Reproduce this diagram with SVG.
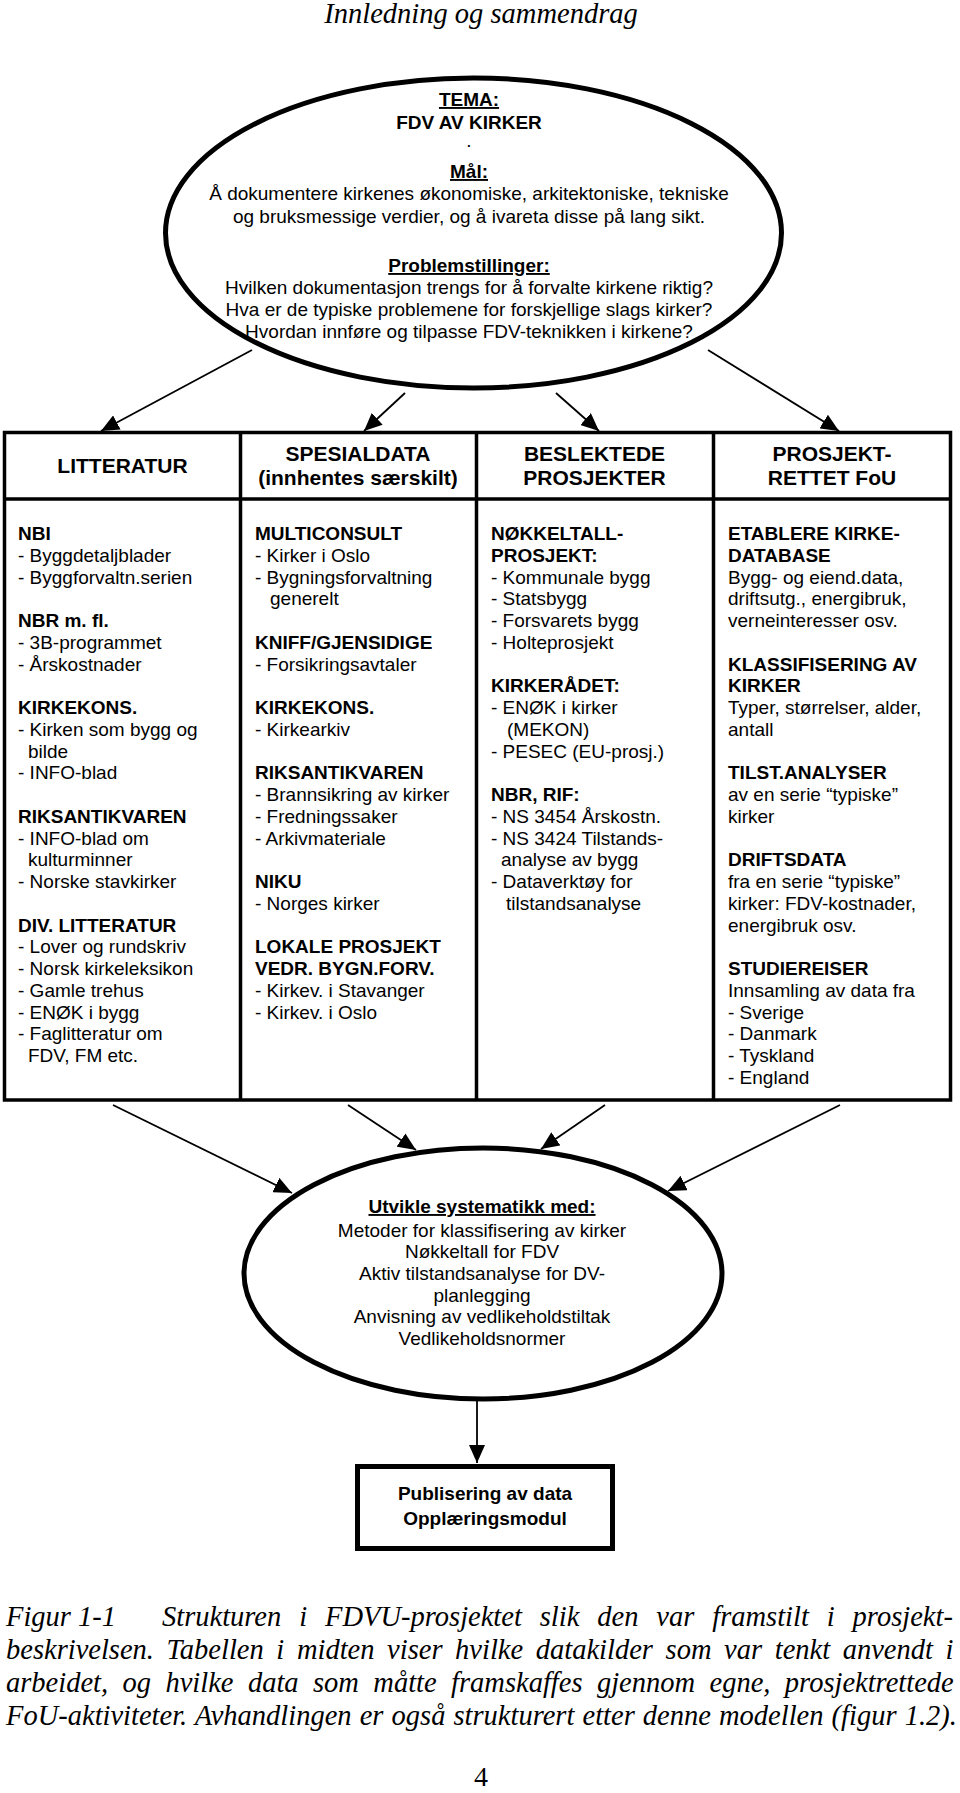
<svg xmlns="http://www.w3.org/2000/svg" width="960" height="1793" viewBox="0 0 960 1793">
<style>
.t{font-family:"Liberation Sans",Arial,sans-serif;font-size:19px;fill:#000}
.b{font-weight:bold}
.h{font-family:"Liberation Sans",Arial,sans-serif;font-size:21px;font-weight:bold;text-anchor:middle;fill:#000}
.c{text-anchor:middle}
.u{text-decoration:underline}
.cap{font-family:"Liberation Serif","Times New Roman",serif;font-style:italic;font-size:28.5px;fill:#000}
.pg{font-family:"Liberation Serif","Times New Roman",serif;font-size:28px;fill:#000;text-anchor:middle}
.shape{fill:#fff;stroke:#000;stroke-width:5}
.grid{fill:none;stroke:#000;stroke-width:3.5}
.conn{fill:none;stroke:#000;stroke-width:1.8}
</style>
<defs>
<marker id="ah" viewBox="0 0 18 16" refX="18" refY="8" markerWidth="18" markerHeight="16" markerUnits="userSpaceOnUse" orient="auto">
<path d="M0,0 L18,8 L0,16 z" fill="#000"/>
</marker>
</defs>
<rect width="960" height="1793" fill="#fff"/>

<text class="cap" x="481" y="23" text-anchor="middle">Innledning og sammendrag</text>

<g id="tema">
<ellipse class="shape" cx="473.5" cy="233" rx="308" ry="155"/>
<text class="t c b u" x="469" y="106" font-size="21">TEMA:</text>
<text class="t c b" x="469" y="129" font-size="21">FDV AV KIRKER</text>
<text class="t c" x="469" y="147">.</text>
<text class="t c b u" x="469" y="178" font-size="21">Mål:</text>
<text class="t c" x="469" y="200">Å dokumentere kirkenes økonomiske, arkitektoniske, tekniske</text>
<text class="t c" x="469" y="223">og bruksmessige verdier, og å ivareta disse på lang sikt.</text>
<text class="t c b u" x="469" y="272">Problemstillinger:</text>
<text class="t c" x="469" y="294">Hvilken dokumentasjon trengs for å forvalte kirkene riktig?</text>
<text class="t c" x="469" y="316">Hva er de typiske problemene for forskjellige slags kirker?</text>
<text class="t c" x="469" y="338">Hvordan innføre og tilpasse FDV-teknikken i kirkene?</text>
</g>

<g id="table">
<rect class="grid" x="4.5" y="432.5" width="946" height="667.5"/>
<line class="grid" x1="4.5" y1="499" x2="950.5" y2="499" stroke-width="5"/>
<line class="grid" x1="240.5" y1="432.5" x2="240.5" y2="1100"/>
<line class="grid" x1="476.5" y1="432.5" x2="476.5" y2="1100"/>
<line class="grid" x1="713.5" y1="432.5" x2="713.5" y2="1100"/>
</g>

<g id="col-litteratur">
<text class="h" x="122.5" y="473">LITTERATUR</text>
<text class="t" x="18" y="540">
<tspan x="18" class="b">NBI</tspan>
<tspan x="18" dy="21.75">- Byggdetaljblader</tspan>
<tspan x="18" dy="21.75">- Byggforvaltn.serien</tspan>
<tspan x="18" dy="43.5" class="b">NBR m. fl.</tspan>
<tspan x="18" dy="21.75">- 3B-programmet</tspan>
<tspan x="18" dy="21.75">- Årskostnader</tspan>
<tspan x="18" dy="43.5" class="b">KIRKEKONS.</tspan>
<tspan x="18" dy="21.75">- Kirken som bygg og</tspan>
<tspan x="28" dy="21.75">bilde</tspan>
<tspan x="18" dy="21.75">- INFO-blad</tspan>
<tspan x="18" dy="43.5" class="b">RIKSANTIKVAREN</tspan>
<tspan x="18" dy="21.75">- INFO-blad om</tspan>
<tspan x="28" dy="21.75">kulturminner</tspan>
<tspan x="18" dy="21.75">- Norske stavkirker</tspan>
<tspan x="18" dy="43.5" class="b">DIV. LITTERATUR</tspan>
<tspan x="18" dy="21.75">- Lover og rundskriv</tspan>
<tspan x="18" dy="21.75">- Norsk kirkeleksikon</tspan>
<tspan x="18" dy="21.75">- Gamle trehus</tspan>
<tspan x="18" dy="21.75">- ENØK i bygg</tspan>
<tspan x="18" dy="21.75">- Faglitteratur om</tspan>
<tspan x="28" dy="21.75">FDV, FM etc.</tspan>
</text>
</g>

<g id="col-spesialdata">
<text class="h" x="358" y="461">SPESIALDATA</text>
<text class="h" x="358" y="485">(innhentes særskilt)</text>
<text class="t" x="255" y="540">
<tspan x="255" class="b">MULTICONSULT</tspan>
<tspan x="255" dy="21.75">- Kirker i Oslo</tspan>
<tspan x="255" dy="21.75">- Bygningsforvaltning</tspan>
<tspan x="270" dy="21.75">generelt</tspan>
<tspan x="255" dy="43.5" class="b">KNIFF/GJENSIDIGE</tspan>
<tspan x="255" dy="21.75">- Forsikringsavtaler</tspan>
<tspan x="255" dy="43.5" class="b">KIRKEKONS.</tspan>
<tspan x="255" dy="21.75">- Kirkearkiv</tspan>
<tspan x="255" dy="43.5" class="b">RIKSANTIKVAREN</tspan>
<tspan x="255" dy="21.75">- Brannsikring av kirker</tspan>
<tspan x="255" dy="21.75">- Fredningssaker</tspan>
<tspan x="255" dy="21.75">- Arkivmateriale</tspan>
<tspan x="255" dy="43.5" class="b">NIKU</tspan>
<tspan x="255" dy="21.75">- Norges kirker</tspan>
<tspan x="255" dy="43.5" class="b">LOKALE PROSJEKT</tspan>
<tspan x="255" dy="21.75" class="b">VEDR. BYGN.FORV.</tspan>
<tspan x="255" dy="21.75">- Kirkev. i Stavanger</tspan>
<tspan x="255" dy="21.75">- Kirkev. i Oslo</tspan>
</text>
</g>

<g id="col-beslektede">
<text class="h" x="594.5" y="461">BESLEKTEDE</text>
<text class="h" x="594.5" y="485">PROSJEKTER</text>
<text class="t" x="491" y="540">
<tspan x="491" class="b">NØKKELTALL-</tspan>
<tspan x="491" dy="21.75" class="b">PROSJEKT:</tspan>
<tspan x="491" dy="21.75">- Kommunale bygg</tspan>
<tspan x="491" dy="21.75">- Statsbygg</tspan>
<tspan x="491" dy="21.75">- Forsvarets bygg</tspan>
<tspan x="491" dy="21.75">- Holteprosjekt</tspan>
<tspan x="491" dy="43.5" class="b">KIRKERÅDET:</tspan>
<tspan x="491" dy="21.75">- ENØK i kirker</tspan>
<tspan x="507" dy="21.75">(MEKON)</tspan>
<tspan x="491" dy="21.75">- PESEC (EU-prosj.)</tspan>
<tspan x="491" dy="43.5" class="b">NBR, RIF:</tspan>
<tspan x="491" dy="21.75">- NS 3454 Årskostn.</tspan>
<tspan x="491" dy="21.75">- NS 3424 Tilstands-</tspan>
<tspan x="501" dy="21.75">analyse av bygg</tspan>
<tspan x="491" dy="21.75">- Dataverktøy for</tspan>
<tspan x="506" dy="21.75">tilstandsanalyse</tspan>
</text>
</g>

<g id="col-fou">
<text class="h" x="832" y="461">PROSJEKT-</text>
<text class="h" x="832" y="485">RETTET FoU</text>
<text class="t" x="728" y="540">
<tspan x="728" class="b">ETABLERE KIRKE-</tspan>
<tspan x="728" dy="21.75" class="b">DATABASE</tspan>
<tspan x="728" dy="21.75">Bygg- og eiend.data,</tspan>
<tspan x="728" dy="21.75">driftsutg., energibruk,</tspan>
<tspan x="728" dy="21.75">verneinteresser osv.</tspan>
<tspan x="728" dy="43.5" class="b">KLASSIFISERING AV</tspan>
<tspan x="728" dy="21.75" class="b">KIRKER</tspan>
<tspan x="728" dy="21.75">Typer, størrelser, alder,</tspan>
<tspan x="728" dy="21.75">antall</tspan>
<tspan x="728" dy="43.5" class="b">TILST.ANALYSER</tspan>
<tspan x="728" dy="21.75">av en serie “typiske”</tspan>
<tspan x="728" dy="21.75">kirker</tspan>
<tspan x="728" dy="43.5" class="b">DRIFTSDATA</tspan>
<tspan x="728" dy="21.75">fra en serie “typiske”</tspan>
<tspan x="728" dy="21.75">kirker: FDV-kostnader,</tspan>
<tspan x="728" dy="21.75">energibruk osv.</tspan>
<tspan x="728" dy="43.5" class="b">STUDIEREISER</tspan>
<tspan x="728" dy="21.75">Innsamling av data fra</tspan>
<tspan x="728" dy="21.75">- Sverige</tspan>
<tspan x="728" dy="21.75">- Danmark</tspan>
<tspan x="728" dy="21.75">- Tyskland</tspan>
<tspan x="728" dy="21.75">- England</tspan>
</text>
</g>

<g id="utvikle">
<ellipse class="shape" cx="483" cy="1273.5" rx="239" ry="125.5"/>
<text class="t c b u" x="482" y="1213" font-size="23">Utvikle systematikk med:</text>
<text class="t c" x="482" y="1237">Metoder for klassifisering av kirker</text>
<text class="t c" x="482" y="1258">Nøkkeltall for FDV</text>
<text class="t c" x="482" y="1280">Aktiv tilstandsanalyse for DV-</text>
<text class="t c" x="482" y="1302">planlegging</text>
<text class="t c" x="482" y="1323">Anvisning av vedlikeholdstiltak</text>
<text class="t c" x="482" y="1345">Vedlikeholdsnormer</text>
</g>

<g id="publisering">
<rect class="shape" x="357.5" y="1466.5" width="255" height="82"/>
<text class="t c b" x="485" y="1500" font-size="21">Publisering av data</text>
<text class="t c b" x="485" y="1525" font-size="21">Opplæringsmodul</text>
</g>

<g id="connectors">
<line class="conn" x1="252" y1="350" x2="101" y2="431" marker-end="url(#ah)"/>
<line class="conn" x1="405" y1="393" x2="364" y2="431" marker-end="url(#ah)"/>
<line class="conn" x1="556" y1="393" x2="599" y2="431" marker-end="url(#ah)"/>
<line class="conn" x1="708" y1="350" x2="839" y2="431" marker-end="url(#ah)"/>
<line class="conn" x1="113" y1="1105" x2="292" y2="1193" marker-end="url(#ah)"/>
<line class="conn" x1="348" y1="1105" x2="416" y2="1150" marker-end="url(#ah)"/>
<line class="conn" x1="605" y1="1105" x2="541" y2="1149" marker-end="url(#ah)"/>
<line class="conn" x1="840" y1="1105" x2="668" y2="1191" marker-end="url(#ah)"/>
<line class="conn" x1="477" y1="1400" x2="477" y2="1463" marker-end="url(#ah)"/>
</g>

<g id="caption">
<text class="cap" x="6" y="1626">Figur 1-1</text>
<text class="cap" x="162" y="1626" word-spacing="10.8">Strukturen i FDVU-prosjektet slik den var framstilt i prosjekt-</text>
<text class="cap" x="6" y="1659" word-spacing="5.5">beskrivelsen. Tabellen i midten viser hvilke datakilder som var tenkt anvendt i</text>
<text class="cap" x="6" y="1692" word-spacing="7.3">arbeidet, og hvilke data som måtte framskaffes gjennom egne, prosjektrettede</text>
<text class="cap" x="6" y="1725" word-spacing="1">FoU-aktiviteter. Avhandlingen er også strukturert etter denne modellen (figur 1.2).</text>
</g>
<text class="pg" x="481" y="1786">4</text>
</svg>
